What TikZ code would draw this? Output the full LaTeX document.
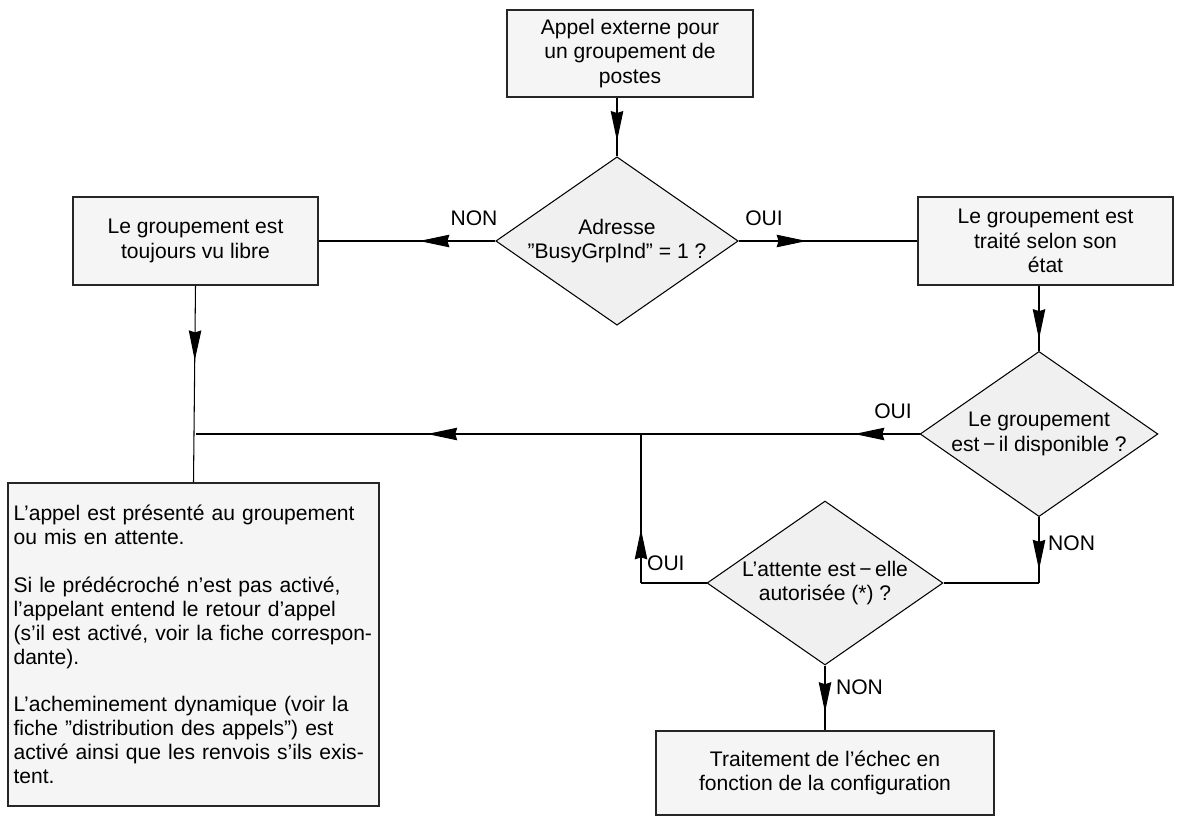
\documentclass[tikz,border=0pt]{standalone}
\usepackage{fontspec}
\setmainfont{Liberation Sans}
\usetikzlibrary{shapes.geometric,arrows.meta,decorations.markings}

\tikzset{
  box/.style={draw=black!85,line width=0.8pt,fill=black!4,align=center,inner sep=2pt},
  test/.style={diamond,draw=black,line width=0.6pt,fill=black!6,align=center,inner sep=0pt,
    shape aspect=1.44,minimum width=4.72cm,minimum height=3.28cm},
  lab/.style={inner sep=1pt},
  flow/.style={line width=0.6pt,decoration={markings,
    mark=at position #1 with {\arrow{Stealth[length=0.6cm,width=0.25cm,inset=0.04cm]}}},
    postaction={decorate}},
  link/.style={line width=0.6pt},
}

\begin{document}
\begin{tikzpicture}[x=0.02cm,y=-0.02cm,font=\fontsize{12}{14}\selectfont]
   \useasboundingbox (0,0) rectangle (1179,818);
   % boites
   \node[box,minimum width=4.92cm,minimum height=1.74cm] (appel) at (630,53.5)
      {Appel externe pour\\un groupement de\\postes};
   \node[test] (adr) at (617,241) {Adresse\\"BusyGrpInd" = 1 ?};
   \node[box,minimum width=4.9cm,minimum height=1.76cm] (libre) at (195.5,241)
      {Le groupement est\\toujours vu libre};
   \node[box,minimum width=5.1cm,minimum height=1.76cm] (etat) at (1045.5,241)
      {Le groupement est\\traité selon son\\état};
   \node[test] (dispo) at (1039,434) {Le groupement\\est{\,}−{\,}il disponible ?};
   \node[test] (attente) at (825,583) {L’attente est{\,}−{\,}elle\\autorisée (*) ?};
   \node[box,minimum width=7.42cm,minimum height=6.46cm,align=left,text width=7.2cm,
      fontsize/.style={},font=\fontsize{12}{13.6}\selectfont] (present) at (193.5,644.5)
      {L’appel est présenté au groupement\\ou mis en attente.\\[13.6pt]
       Si le prédécroché n’est pas activé,\\l’appelant entend le retour d’appel\\
       (s’il est activé, voir la fiche correspon-\\dante).\\[13.6pt]
       L’acheminement dynamique (voir la\\fiche "distribution des appels") est\\
       activé ainsi que les renvois s’ils exis-\\tent.};
   \node[box,minimum width=6.76cm,minimum height=1.68cm] (echec) at (825,773)
      {Traitement de l’échec en\\fonction de la configuration};
   % points de jonction
   \coordinate (jg) at (libre.south |- dispo.west);
   \coordinate (c1) at (dispo.south |- attente.east);
   \coordinate (c2) at (641,583);
   \coordinate (c3) at (641,434);
   % liaisons
   \draw[flow=0.74] (adr.north |- appel.south) -- (adr.north);
   \draw[flow=0.43] (adr.west) -- (libre.east);
   \draw[flow=0.38] (adr.east) -- (etat.west);
   \draw[flow=0.82] (dispo.north |- etat.south) -- (dispo.north);
   \draw[flow=0.38] (libre.south) -- (present.north);
   \draw[line width=0.6pt,decoration={markings,
      mark=at position 0.09 with {\arrow{Stealth[length=0.6cm,width=0.25cm,inset=0.04cm]}},
      mark=at position 0.68 with {\arrow{Stealth[length=0.6cm,width=0.25cm,inset=0.04cm]}}},
      postaction={decorate}] (dispo.west) -- (jg);
   \draw[flow=0.8] (dispo.south) -- (c1);
   \draw[link] (c1) -- (attente.east);
   \draw[link] (attente.west) -- (c2);
   \draw[flow=0.36] (c2) -- (c3);
   \draw[flow=0.72] (attente.south) -- (echec.north);
   % etiquettes
   \node[lab] (non1) at (474,218) {NON};
   \node[lab] (oui1) at (764,218) {OUI};
   \node[lab] (oui2) at (893,411) {OUI};
   \node[lab,anchor=west] (non2) at (1046,543) {NON};
   \node[lab,anchor=west] (oui3) at (645,563) {OUI};
   \node[lab,anchor=west] (non3) at (834,687) {NON};
\end{tikzpicture}
\end{document}
